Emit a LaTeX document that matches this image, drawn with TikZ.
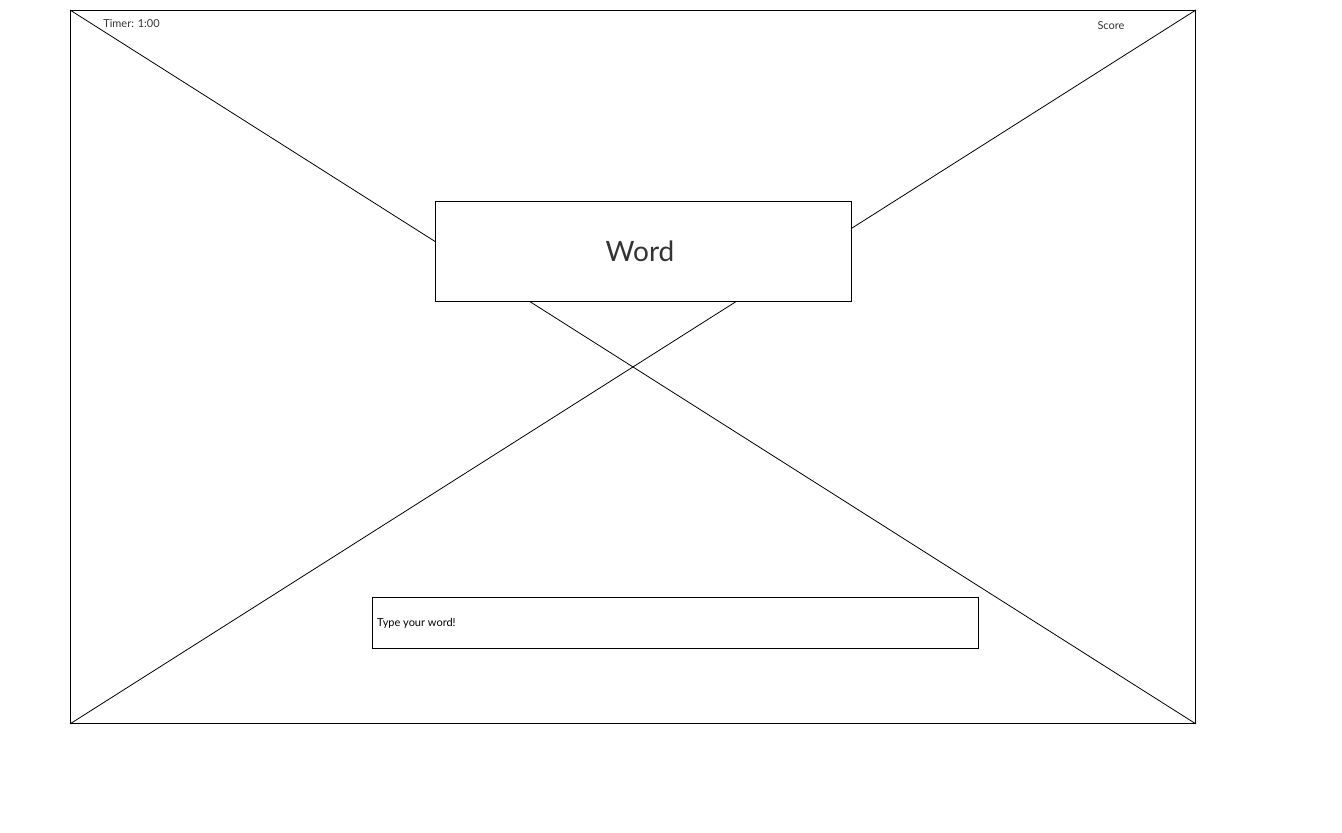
\documentclass[tikz,border=0pt]{standalone}
\usepackage{fontspec}
\setmainfont{Lato}
\usetikzlibrary{positioning}
\definecolor{txtgray}{HTML}{333333}
\tikzset{
  box/.style={draw=black, fill=white, line width=0.9pt, inner sep=0pt},
  label/.style={text=txtgray, font=\fontsize{11}{13}\selectfont, inner sep=0pt}
}
\begin{document}
\begin{tikzpicture}[x=1pt,y=-1pt]
  \useasboundingbox (0,0) rectangle (1342,833);
  % outer wireframe with its cross
  \node[draw=black, line width=0.9pt, minimum width=1125pt, minimum height=713pt, inner sep=0pt, anchor=north west] (frame) at (70,10) {};
  \draw[line width=0.8pt] (frame.north west) -- (frame.south east);
  \draw[line width=0.8pt] (frame.south west) -- (frame.north east);
  \node[label] (timer) at (131.5,23.5) {Timer: 1:00};
  \node[label] (score) at (1111,25.5) {Score};
  % word to guess
  \node[box, minimum width=416pt, minimum height=100pt, anchor=north west] (word) at (435,201) {};
  \node[text=txtgray, font=\fontsize{28}{33}\selectfont, inner sep=0pt] (wordtext) at (640,251) {Word};
  % answer field
  \node[box, minimum width=606pt, minimum height=51pt, anchor=north west] (input) at (372,597) {};
  \node[label, text=black, anchor=west] (hint) at (377,623) {Type your word!};
\end{tikzpicture}
\end{document}
